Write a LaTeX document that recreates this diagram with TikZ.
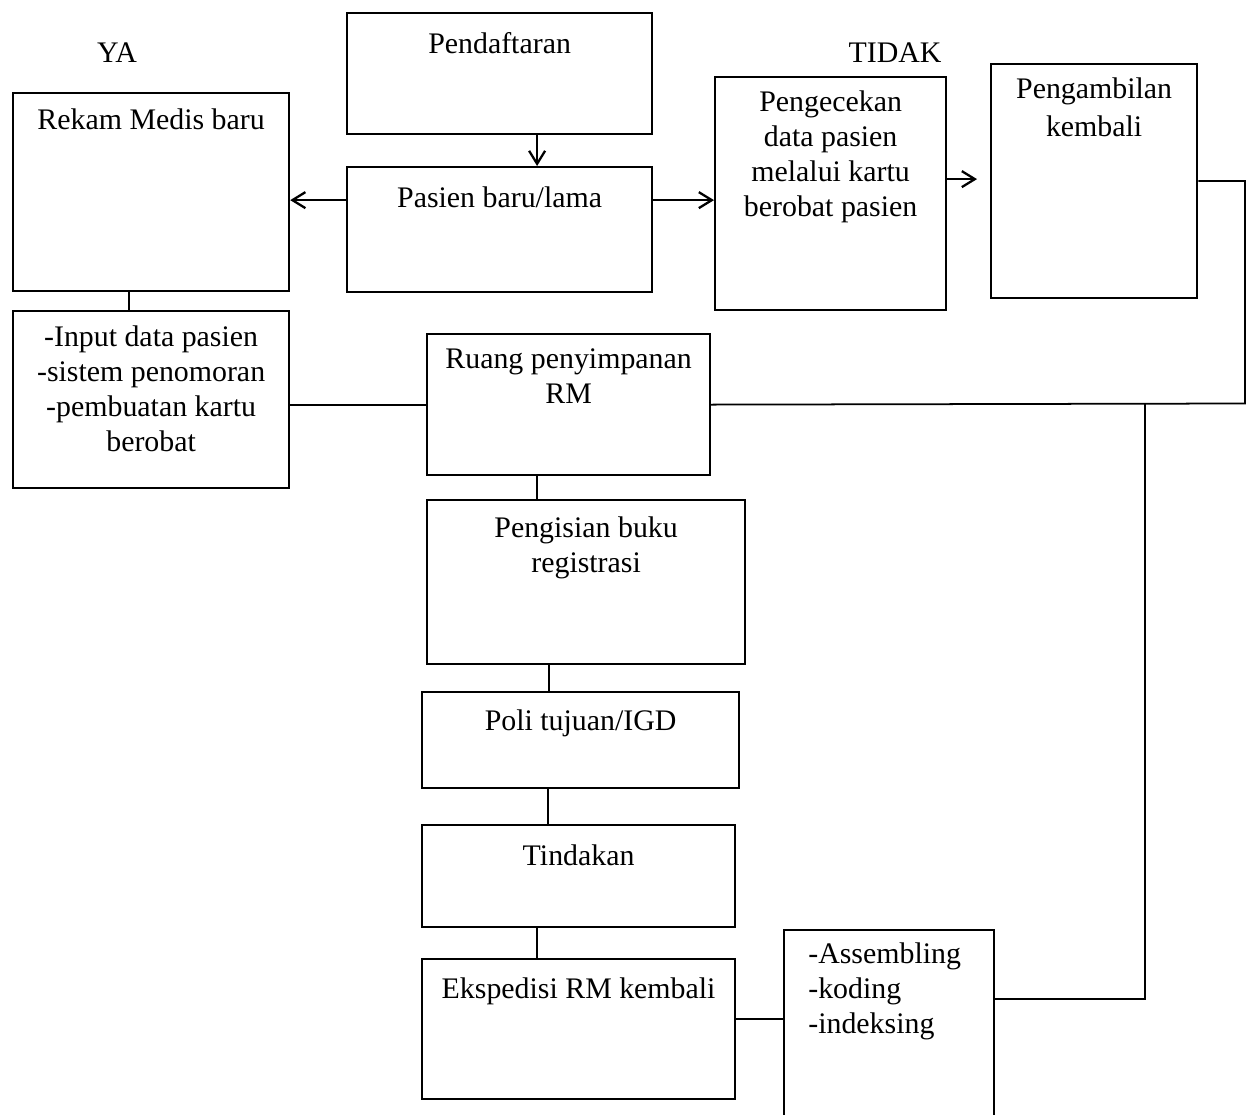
\documentclass[tikz,border=0pt]{standalone}
\usepackage{fontspec}
\setmainfont{Liberation Serif}
\usepackage{tikz}
\usetikzlibrary{arrows.meta,positioning}

\tikzset{
  box/.style={draw, line width=1.3pt, anchor=north west, inner sep=0pt},
  lbl/.style={anchor=north, align=center, inner sep=0pt, yshift=#1},
  lbl/.default=-0.36cm,
  line/.style={line width=1pt},
  arr/.style={line width=1.3pt, -{Straight Barb[length=0.26cm,width=0.32cm]}}
}

\begin{document}
\begin{tikzpicture}[x=0.02cm, y=-0.02cm, font=\fontsize{17}{20}\selectfont]
			\useasboundingbox (0,0) rectangle (1247,1115);
			% kotak
			\node[box, minimum width=6.10cm, minimum height=2.42cm, label={[lbl=-0.40cm]north:Pendaftaran}] (pend) at (346,12) {};
			\node[box, minimum width=6.10cm, minimum height=2.50cm, label={[lbl=-0.40cm]north:Pasien baru/lama}] (pasien) at (346,166) {};
			\node[box, minimum width=5.52cm, minimum height=3.96cm, label={[lbl=-0.32cm]north:Rekam Medis baru}] (rekam) at (12,92) {};
			\node[box, minimum width=5.52cm, minimum height=3.54cm, label={[lbl=-0.30cm]north:-Input data pasien\\-sistem penomoran\\-pembuatan kartu\\berobat}] (input) at (12,310) {};
			\node[box, minimum width=4.62cm, minimum height=4.66cm, label={[lbl=-0.28cm]north:Pengecekan\\data pasien\\melalui kartu\\berobat pasien}] (cek) at (714,76) {};
			\node[box, minimum width=4.12cm, minimum height=4.68cm, label={[lbl=-0.28cm]north:Pengambilan\\[2pt]kembali}] (ambil) at (990,63) {};
			\node[box, minimum width=5.66cm, minimum height=2.82cm, label={[lbl=-0.30cm]north:Ruang penyimpanan\\RM}] (ruang) at (426,333) {};
			\node[box, minimum width=6.36cm, minimum height=3.28cm, label={[lbl=-0.34cm]north:Pengisian buku\\registrasi}] (isi) at (426,499) {};
			\node[box, minimum width=6.34cm, minimum height=1.92cm, label={[lbl]north:Poli tujuan/IGD}] (poli) at (421,691) {};
			\node[box, minimum width=6.26cm, minimum height=2.04cm, label={[lbl=-0.40cm]north:Tindakan}] (tindak) at (421,824) {};
			\node[box, minimum width=6.26cm, minimum height=2.80cm, label={[lbl=-0.38cm]north:Ekspedisi RM kembali}] (eksp) at (421,958) {};
			\node[box, minimum width=4.20cm, minimum height=4.00cm, label={[anchor=north west, align=left, inner sep=0pt, xshift=0.5cm, yshift=-0.26cm]north west:-Assembling\\-koding\\-indeksing}] (asm) at (783,929) {};
			% keterangan
			\node (ya) at (117,53) {YA};
			\node (tidak) at (895,53) {TIDAK};
			% panah
			\draw[arr] ([xshift=0.75cm]pend.south) coordinate (ps) -- (ps |- pasien.north);
			\draw[arr] ([yshift=0.59cm]pasien.west) coordinate (pw) -- (pw -| rekam.east);
			\draw[arr] ([yshift=0.59cm]pasien.east) coordinate (pe) -- (pe -| cek.west);
			\draw[arr, shorten >=0.26cm] ([yshift=0.29cm]cek.east) coordinate (ce) -- (ce -| ambil.west);
			% garis
			\coordinate (kanan) at (1245,403.5);
			\coordinate (simpul) at (1145,403.5);
			\draw[line] ([xshift=-0.44cm]rekam.south) coordinate (rs) -- (rs |- input.north);
			\draw[line] (ruang.west -| input.east) -- (ruang.west);
			\draw[line] (ambil.east) -| (kanan) -- (ruang.east);
			\draw[line] (simpul) |- ([yshift=0.62cm]asm.east);
			\draw[line] ([yshift=0.2cm]eksp.east) coordinate (ee) -- (ee -| asm.west);
			\draw[line] ([xshift=-0.63cm]ruang.south) coordinate (rb) -- (rb |- isi.north);
			\draw[line] ([xshift=-0.74cm]isi.south) coordinate (ib) -- (ib |- poli.north);
			\draw[line] ([xshift=-0.65cm]poli.south) coordinate (pb) -- (pb |- tindak.north);
			\draw[line] ([xshift=-0.83cm]tindak.south) coordinate (tb) -- (tb |- eksp.north);
		\end{tikzpicture}
\end{document}
